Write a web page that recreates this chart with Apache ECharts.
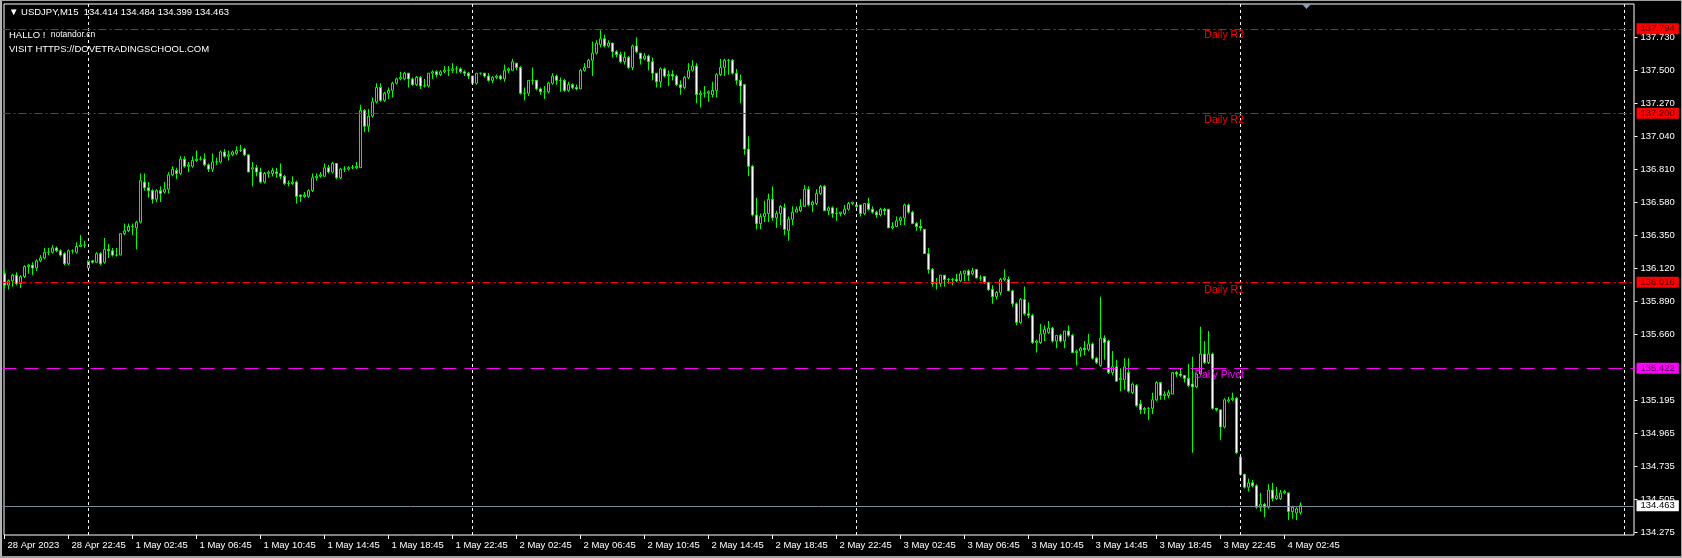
<!DOCTYPE html>
<html><head><meta charset="utf-8">
<script src="https://cdn.jsdelivr.net/npm/echarts@6/dist/echarts.min.js"></script>
<style>
html,body{margin:0;padding:0;background:#000;overflow:hidden;}
#main{width:1682px;height:558px;}
#frame{position:absolute;left:0;top:0;width:1682px;height:558px;box-sizing:border-box;border-top:1px solid #a0a0a0;border-left:2px solid #b4b4b4;border-bottom:2px solid #a0a0a0;border-right:1px solid #a0a0a0;pointer-events:none;}
</style>
</head><body><div id="main"></div><div id="frame"></div>
<script>
// ---------- DATA (USDJPY M15) ----------
const opens = [
136.08,136.00,136.03,136.07,136.01,136.06,136.13,136.14,136.12,136.17,
136.19,136.23,136.23,136.26,136.24,136.22,136.15,136.24,136.23,136.27,
136.28,136.12,136.17,136.16,136.22,136.16,136.25,136.24,136.21,136.21,
136.36,136.38,136.41,136.40,136.44,136.72,136.68,136.66,136.60,136.66,
136.65,136.67,136.77,136.80,136.78,136.88,136.83,136.83,136.87,136.88,
136.88,136.84,136.81,136.86,136.86,136.93,136.90,136.91,136.92,136.94,
136.95,136.91,136.81,136.82,136.79,136.72,136.78,136.78,136.79,136.78,
136.76,136.71,136.71,136.72,136.63,136.62,136.62,136.66,136.75,136.76,
136.76,136.82,136.79,136.85,136.75,136.81,136.81,136.82,136.82,136.82,
137.22,137.11,137.18,137.28,137.38,137.29,137.34,137.36,137.41,137.44,
137.44,137.48,137.44,137.40,137.45,137.39,137.39,137.48,137.49,137.47,
137.49,137.50,137.50,137.51,137.51,137.49,137.48,137.46,137.41,137.48,
137.48,137.46,137.43,137.45,137.46,137.44,137.50,137.50,137.55,137.52,
137.34,137.34,137.43,137.43,137.37,137.35,137.35,137.41,137.46,137.43,
137.43,137.36,137.40,137.38,137.37,137.50,137.52,137.57,137.62,137.68,
137.72,137.67,137.69,137.63,137.61,137.56,137.59,137.52,137.67,137.62,
137.58,137.60,137.56,137.48,137.42,137.51,137.46,137.47,137.46,137.40,
137.38,137.45,137.50,137.53,137.33,137.34,137.34,137.33,137.36,137.47,
137.52,137.57,137.57,137.48,137.43,137.40,136.95,136.83,136.49,136.43,
136.48,136.50,136.60,136.47,136.50,136.54,136.38,136.46,136.51,136.52,
136.55,136.67,136.56,136.57,136.64,136.69,136.52,136.54,136.50,136.50,
136.50,136.53,136.57,136.56,136.56,136.50,136.57,136.53,136.51,136.49,
136.53,136.53,136.40,136.41,136.45,136.47,136.56,136.51,136.43,136.41,
136.39,136.22,136.11,136.01,136.01,136.07,136.04,136.04,136.04,136.03,
136.08,136.10,136.08,136.11,136.05,136.06,136.02,135.97,135.92,135.95,
136.04,136.04,135.96,135.87,135.74,135.90,135.80,135.79,135.60,135.60,
135.66,135.67,135.70,135.61,135.65,135.61,135.68,135.65,135.53,135.54,
135.56,135.55,135.59,135.49,135.44,135.63,135.61,135.39,135.43,135.34,
135.34,135.39,135.25,135.30,135.17,135.13,135.14,135.14,135.20,135.32,
135.23,135.23,135.24,135.39,135.38,135.37,135.35,135.31,135.29,135.38,
135.52,135.46,135.52,135.14,135.13,135.01,135.19,135.20,135.21,134.80,
134.68,134.59,134.62,134.60,134.45,134.47,134.45,134.57,134.51,134.51,
134.55,134.55,134.42,134.41,134.414
];
const highs = [
136.11,136.04,136.08,136.09,136.07,136.14,136.15,136.16,136.18,136.21,
136.26,136.26,136.28,136.27,136.25,136.23,136.25,136.25,136.30,136.35,
136.31,136.17,136.17,136.23,136.23,136.33,136.29,136.26,136.26,136.36,
136.43,136.43,136.43,136.45,136.78,136.78,136.72,136.67,136.67,136.69,
136.72,136.79,136.83,136.82,136.90,136.90,136.86,136.90,136.94,136.90,
136.92,136.85,136.92,136.89,136.94,136.95,136.94,136.94,136.97,136.98,
136.96,136.91,136.86,136.84,136.82,136.79,136.80,136.82,136.82,136.85,
136.77,136.73,136.76,136.73,136.63,136.65,136.67,136.78,136.78,136.79,
136.85,136.84,136.86,136.85,136.82,136.83,136.83,136.84,136.86,137.26,
137.23,137.23,137.31,137.41,137.41,137.35,137.38,137.42,137.45,137.49,
137.49,137.48,137.45,137.46,137.46,137.44,137.48,137.50,137.50,137.50,
137.53,137.53,137.55,137.53,137.52,137.50,137.49,137.46,137.48,137.48,
137.48,137.48,137.46,137.47,137.47,137.54,137.52,137.58,137.55,137.53,
137.38,137.43,137.52,137.43,137.38,137.39,137.42,137.48,137.47,137.45,
137.44,137.42,137.41,137.40,137.51,137.55,137.58,137.70,137.71,137.78,
137.75,137.71,137.69,137.64,137.63,137.63,137.60,137.68,137.73,137.62,
137.62,137.61,137.59,137.48,137.52,137.52,137.50,137.50,137.47,137.43,
137.46,137.55,137.57,137.55,137.36,137.39,137.36,137.42,137.48,137.58,
137.58,137.58,137.58,137.51,137.47,137.40,137.04,136.84,136.61,136.50,
136.59,136.64,136.69,136.52,136.56,136.57,136.48,136.55,136.55,136.60,
136.70,136.69,136.59,136.67,136.70,136.70,136.55,136.55,136.54,136.51,
136.56,136.58,136.58,136.56,136.56,136.57,136.61,136.55,136.52,136.54,
136.54,136.53,136.44,136.48,136.48,136.57,136.57,136.52,136.44,136.46,
136.39,136.26,136.12,136.05,136.07,136.07,136.05,136.05,136.08,136.10,
136.10,136.11,136.12,136.11,136.07,136.06,136.02,136.00,135.96,136.05,
136.11,136.06,135.97,135.88,135.91,135.99,135.88,135.80,135.62,135.73,
135.72,135.75,135.71,135.65,135.66,135.68,135.72,135.66,135.55,135.57,
135.61,135.66,135.60,135.50,135.92,135.65,135.62,135.54,135.48,135.42,
135.49,135.49,135.32,135.31,135.20,135.15,135.15,135.25,135.33,135.32,
135.26,135.27,135.39,135.40,135.42,135.37,135.45,135.50,135.39,135.71,
135.61,135.68,135.53,135.14,135.13,135.21,135.22,135.25,135.22,134.80,
134.68,134.65,134.64,134.61,134.55,134.48,134.61,134.62,134.59,134.57,
134.57,134.55,134.46,134.45,134.484
];
const lows = [
135.98,135.97,135.99,136.00,135.98,136.05,136.08,136.07,136.10,136.16,
136.18,136.21,136.22,136.23,136.20,136.14,136.14,136.22,136.22,136.27,
136.26,136.11,136.15,136.16,136.14,136.15,136.19,136.20,136.20,136.21,
136.35,136.37,136.35,136.25,136.43,136.66,136.61,136.57,136.58,136.58,
136.64,136.64,136.76,136.74,136.77,136.82,136.79,136.82,136.86,136.87,
136.83,136.79,136.79,136.84,136.85,136.89,136.87,136.90,136.91,136.93,
136.90,136.79,136.69,136.76,136.71,136.71,136.75,136.76,136.75,136.74,
136.70,136.69,136.70,136.57,136.58,136.61,136.61,136.65,136.73,136.75,
136.76,136.78,136.78,136.74,136.74,136.79,136.80,136.81,136.81,136.82,
137.07,137.07,137.17,137.27,137.28,137.28,137.30,137.31,137.40,137.43,
137.43,137.38,137.39,137.39,137.37,137.38,137.38,137.44,137.45,137.46,
137.48,137.46,137.48,137.48,137.48,137.46,137.44,137.40,137.40,137.47,
137.45,137.42,137.41,137.44,137.43,137.42,137.48,137.50,137.50,137.33,
137.29,137.32,137.40,137.36,137.33,137.30,137.34,137.40,137.40,137.35,
137.35,137.35,137.37,137.36,137.37,137.49,137.52,137.46,137.61,137.66,
137.66,137.66,137.59,137.59,137.55,137.54,137.51,137.50,137.62,137.54,
137.57,137.50,137.43,137.38,137.38,137.45,137.39,137.43,137.39,137.33,
137.37,137.44,137.49,137.27,137.24,137.31,137.28,137.31,137.31,137.46,
137.46,137.47,137.47,137.40,137.27,136.91,136.76,136.48,136.39,136.39,
136.44,136.44,136.45,136.40,136.42,136.35,136.31,136.42,136.51,136.51,
136.55,136.55,136.51,136.56,136.63,136.52,136.49,136.47,136.45,136.48,
136.49,136.52,136.56,136.52,136.48,136.49,136.52,136.50,136.47,136.48,
136.49,136.40,136.39,136.41,136.42,136.42,136.50,136.43,136.38,136.38,
136.22,136.08,135.99,135.97,135.99,135.99,136.01,136.00,136.02,136.02,
136.03,136.03,136.07,136.05,136.03,136.01,135.96,135.87,135.90,135.93,
136.03,135.96,135.85,135.72,135.73,135.79,135.77,135.59,135.53,135.59,
135.61,135.66,135.60,135.56,135.60,135.56,135.64,135.53,135.44,135.50,
135.51,135.54,135.48,135.45,135.43,135.48,135.38,135.37,135.33,135.26,
135.27,135.25,135.24,135.15,135.10,135.10,135.06,135.10,135.19,135.20,
135.20,135.21,135.24,135.36,135.36,135.32,135.29,134.83,135.28,135.37,
135.45,135.45,135.13,135.12,134.92,135.00,135.18,135.19,134.82,134.67,
134.58,134.56,134.59,134.44,134.42,134.38,134.44,134.49,134.50,134.50,
134.54,134.36,134.37,134.36,134.399
];
const closes = [
136.00,136.03,136.07,136.01,136.06,136.13,136.14,136.12,136.17,136.19,
136.23,136.23,136.26,136.24,136.21,136.15,136.24,136.24,136.27,136.28,
136.28,136.17,136.16,136.22,136.15,136.25,136.24,136.21,136.21,136.36,
136.38,136.41,136.41,136.44,136.73,136.68,136.66,136.60,136.66,136.64,
136.67,136.77,136.81,136.78,136.88,136.83,136.84,136.87,136.88,136.88,
136.84,136.81,136.86,136.86,136.93,136.90,136.91,136.93,136.94,136.94,
136.91,136.79,136.82,136.79,136.72,136.78,136.79,136.80,136.78,136.76,
136.71,136.71,136.72,136.62,136.62,136.63,136.66,136.75,136.76,136.77,
136.82,136.79,136.85,136.75,136.81,136.81,136.82,136.82,136.83,137.22,
137.11,137.18,137.28,137.38,137.29,137.34,137.36,137.41,137.44,137.45,
137.48,137.44,137.40,137.45,137.39,137.39,137.48,137.49,137.47,137.49,
137.50,137.50,137.51,137.51,137.49,137.48,137.46,137.41,137.48,137.48,
137.46,137.43,137.45,137.46,137.44,137.50,137.51,137.56,137.52,137.34,
137.34,137.43,137.43,137.37,137.35,137.35,137.41,137.46,137.43,137.43,
137.36,137.40,137.38,137.37,137.50,137.52,137.57,137.62,137.69,137.72,
137.67,137.69,137.63,137.61,137.56,137.59,137.52,137.67,137.63,137.58,
137.60,137.56,137.48,137.42,137.51,137.46,137.47,137.46,137.40,137.38,
137.45,137.50,137.53,137.33,137.34,137.34,137.35,137.36,137.47,137.52,
137.57,137.57,137.48,137.43,137.39,136.95,136.83,136.49,136.43,136.48,
136.50,136.60,136.47,136.50,136.55,136.39,136.46,136.51,136.53,136.55,
136.67,136.56,136.58,136.64,136.69,136.52,136.54,136.50,136.50,136.51,
136.53,136.57,136.58,136.55,136.50,136.57,136.53,136.51,136.49,136.53,
136.52,136.40,136.41,136.45,136.47,136.56,136.51,136.43,136.41,136.40,
136.22,136.11,136.01,136.01,136.07,136.04,136.04,136.04,136.03,136.08,
136.10,136.07,136.10,136.05,136.05,136.02,135.97,135.92,135.95,136.04,
136.05,135.96,135.87,135.74,135.90,135.80,135.79,135.60,135.61,135.66,
135.69,135.70,135.61,135.65,135.61,135.68,135.65,135.53,135.54,135.56,
135.55,135.59,135.49,135.46,135.63,135.60,135.39,135.43,135.33,135.35,
135.43,135.26,135.31,135.16,135.13,135.14,135.14,135.20,135.32,135.23,
135.24,135.25,135.39,135.38,135.37,135.35,135.30,135.29,135.38,135.52,
135.46,135.52,135.14,135.13,135.01,135.20,135.20,135.21,134.83,134.68,
134.59,134.62,134.60,134.45,134.47,134.45,134.57,134.51,134.53,134.55,
134.56,134.42,134.45,134.44,134.463
];

// Pivot levels
const levelNames  = ['Daily R3', 'Daily R2', 'Daily R1', 'Daily Pivot'];
const levelValues = [137.794, 137.200, 136.016, 135.422];
const levelColors = ['#ff0000', '#ff0000', '#ff0000', '#ff00ff'];
const lastPrice = 134.463;

// Axis ticks
const yTickValues = [137.730, 137.500, 137.270, 137.040, 136.810, 136.580, 136.350, 136.120,
                     135.890, 135.660, 135.195, 134.965, 134.735, 134.505, 134.275];
const xTickLabels = ['28 Apr 2023','28 Apr 22:45','1 May 02:45','1 May 06:45','1 May 10:45','1 May 14:45',
  '1 May 18:45','1 May 22:45','2 May 02:45','2 May 06:45','2 May 10:45','2 May 14:45','2 May 18:45',
  '2 May 22:45','3 May 02:45','3 May 06:45','3 May 10:45','3 May 14:45','3 May 18:45','3 May 22:45','4 May 02:45'];
const separatorTimes = ['1 May 00:00','2 May 00:00','3 May 00:00','4 May 00:00','5 May 00:00'];
const levelLabelTime = '4 May 00:15';

// ---------- categories: 15-minute bars (28 Apr 18:45 - 23:45, then from 1 May 00:00) ----------
const SLOTS = 408;
function pad(n){return (n<10?'0':'')+n;}
const categories = [];
for (let i = 0; i < SLOTS; i++) {
  let day, mon, mins;
  if (i < 21) { day = 28; mon = 'Apr'; mins = 18*60 + 45 + 15*i; }
  else { const k = i - 21; day = 1 + Math.floor(k/96); mon = 'May'; mins = (k % 96) * 15; }
  categories.push(day + ' ' + mon + ' ' + pad(Math.floor(mins/60)) + ':' + pad(mins % 60));
}
const ohlc = opens.map((o, i) => [o, closes[i], lows[i], highs[i]]);
const labelAt = {};
xTickLabels.forEach((t, k) => { labelAt[k*16] = t; });

const FONT = '"Liberation Sans", Arial, sans-serif';
const n = opens.length - 1;
const header = '▼ USDJPY,M15  ' + [opens[n], highs[n], lows[n], closes[n]].map(v => v.toFixed(3)).join(' ');

const hLines = levelValues.map((v, k) => ({
  yAxis: v,
  lineStyle: { color: levelColors[k], width: 1, type: k < 3 ? [8, 3, 2, 3] : [14, 8] },
  label: { show: true, position: 'end', distance: 2, formatter: v.toFixed(3),
    backgroundColor: levelColors[k], color: k < 3 ? '#4a0000' : '#400040',
    padding: [1, 4, 0, 4], fontSize: 9.5, fontFamily: FONT }
}));
hLines.push({
  yAxis: lastPrice,
  lineStyle: { color: '#7d8995', width: 1, type: 'solid' },
  label: { show: true, position: 'end', distance: 2, formatter: lastPrice.toFixed(3),
    backgroundColor: '#ffffff', color: '#000', padding: [1, 4, 0, 4], fontSize: 9.5, fontFamily: FONT }
});
const vLines = separatorTimes.map(t => ({
  xAxis: t, lineStyle: { color: '#ffffff', width: 1, type: [3, 3] }, label: { show: false }
}));

const chart = echarts.init(document.getElementById('main'), null, { renderer: 'canvas' });
chart.setOption({
  backgroundColor: '#000000',
  animation: false,
  title: [
    { text: header, left: 9, top: 7, padding: 0,
      textStyle: { color: '#fff', fontSize: 9.5, fontWeight: 'normal', fontFamily: FONT } },
    { text: 'HALLO !  {s|notandor.cn}', left: 9, top: 30, padding: 0,
      textStyle: { color: '#fff', fontSize: 9.5, fontWeight: 'normal', fontFamily: FONT,
        rich: { s: { color: '#fff', fontSize: 8.5, fontFamily: FONT } } } },
    { text: 'VISIT HTTPS://DOVETRADINGSCHOOL.COM', left: 9, top: 44, padding: 0,
      textStyle: { color: '#fff', fontSize: 9.5, fontWeight: 'normal', fontFamily: FONT } }
  ],
  grid: [
    { left: 2.5, right: 47.5, top: 4, bottom: 23, show: false },
    { left: 4, right: 48, top: 4, bottom: 23, show: true, borderColor: '#ffffff', borderWidth: 1, backgroundColor: 'transparent' }
  ],
  xAxis: [
    { type: 'category', gridIndex: 0, data: categories, boundaryGap: true,
      axisLine: { show: false },
      axisTick: { show: true, alignWithLabel: true, length: 4, interval: (i) => labelAt[i] !== undefined,
        lineStyle: { color: '#ffffff' } },
      axisLabel: { show: true, interval: (i) => labelAt[i] !== undefined, formatter: (v, i) => labelAt[i] || '',
        color: '#ffffff', fontSize: 9.5, fontFamily: FONT, align: 'left', margin: 5, padding: [0, 0, 0, 3] },
      splitLine: { show: false } },
    { type: 'category', gridIndex: 1, show: false, data: ['-'] }
  ],
  yAxis: [
    { type: 'value', gridIndex: 0, position: 'right', min: 134.256, max: 137.963,
      axisLine: { show: false }, splitLine: { show: false },
      axisTick: { show: true, length: 3, customValues: yTickValues, lineStyle: { color: '#ffffff' } },
      axisLabel: { show: true, customValues: yTickValues, formatter: (v) => v.toFixed(3),
        color: '#ffffff', fontSize: 9.5, fontFamily: FONT, margin: 6 } },
    { type: 'value', gridIndex: 1, show: false }
  ],
  graphic: [
    { type: 'polygon', shape: { points: [[1302, 4], [1311, 4], [1306.5, 9]] }, style: { fill: '#8b9cb0' } }
  ],
  series: [{
    type: 'candlestick', xAxisIndex: 0, yAxisIndex: 0,
    data: ohlc, barWidth: 2,
    itemStyle: { color: '#000000', color0: '#ffffff', borderColor: '#00ff00', borderColor0: '#00ff00', borderWidth: 1 },
    emphasis: { disabled: true },
    markLine: { symbol: ['none', 'none'], silent: true, animation: false, data: vLines.concat(hLines) },
    markPoint: {
      symbol: 'rect', symbolSize: 1, silent: true, animation: false,
      itemStyle: { color: 'rgba(0,0,0,0)' },
      data: levelValues.map((v, k) => ({
        coord: [levelLabelTime, v],
        label: { show: true, formatter: levelNames[k], position: [0, 2], align: 'right', verticalAlign: 'top',
          color: levelColors[k], fontSize: 10.5, fontFamily: FONT }
      }))
    }
  }]
});
</script></body></html>
